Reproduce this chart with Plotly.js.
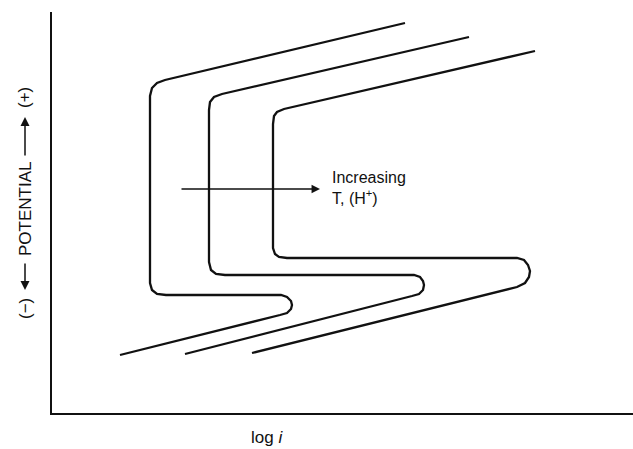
<!DOCTYPE html>
<html>
<head>
<meta charset="utf-8">
<script src="https://cdn.plot.ly/plotly-3.0.1.min.js"></script>
<style>html,body{margin:0;padding:0;background:#fff;}#chart{width:633px;height:449px;}</style>
</head>
<body>
<div id="chart"></div>
<script>
// Schematic polarization curves (arbitrary units): x = log i, y = potential
const curve1X = [353,113,105,100,98,98,100,105,114,229,235,239,240,239,235,228,68];
const curve1Y = [390,333,330,325,317,130,123,119,118,118,116,112,108,104,100,98,58];
const curve2X = [417,170,162,158,157,157,159,164,173,362,368,371,372,371,367,360,133];
const curve2Y = [376,319,316,311,303,151,143,139,138,138,136,132,128,123,119,117,59];
const curve3X = [483,232,225,222,221,221,223,227,235,465,472,476,478,477,473,465,200];
const curve3Y = [362,304,301,297,289,165,159,156,155,155,153,148,142,136,130,126,60];

const arrowFrom = [128,224];
const arrowTo = [268,224];
const labelPos = [278,225];

const xTitle = 'log <i>i</i>';
const yLabelPlus = '(+)';
const yLabelMid = 'POTENTIAL';
const yLabelMinus = '(−)';
const noteText = 'Increasing<br>T, (H<sup>+</sup>)';

const lineStyle = {color:'#111', width:2.3, shape:'linear'};
const traces = [
  {x:curve1X, y:curve1Y},
  {x:curve2X, y:curve2Y},
  {x:curve3X, y:curve3Y}
].map(t => Object.assign(t, {type:'scatter', mode:'lines', line:lineStyle, hoverinfo:'skip', showlegend:false}));

const font = {family:'Liberation Sans, Arial, sans-serif', color:'#111'};
// paper coordinates for the rotated y label
const py = v => (413 - v) / 401;
const lx = (25 - 52) / 581;
const lbl = (text, yPix) => ({xref:'paper', yref:'paper', x:lx, y:py(yPix), text:text, textangle:-90,
  showarrow:false, xanchor:'center', yanchor:'middle', font:Object.assign({size:17}, font)});
const layout = {
  width:633, height:449,
  margin:{l:52, r:0, t:12, b:36},
  paper_bgcolor:'#fff', plot_bgcolor:'#fff',
  showlegend:false,
  xaxis:{range:[0,581], showgrid:false, zeroline:false, showticklabels:false, ticks:'',
         showline:true, linecolor:'#111', linewidth:2, fixedrange:true},
  yaxis:{range:[0,401], showgrid:false, zeroline:false, showticklabels:false, ticks:'',
         showline:true, linecolor:'#111', linewidth:2, fixedrange:true},
  annotations:[
    {xref:'x', yref:'y', axref:'x', ayref:'y', x:arrowTo[0], y:arrowTo[1], ax:arrowFrom[0], ay:arrowFrom[1],
     text:'', showarrow:true, arrowhead:2, arrowsize:1.3, arrowwidth:1.3, arrowcolor:'#111'},
    {xref:'x', yref:'y', x:labelPos[0], y:labelPos[1], text:noteText, showarrow:false,
     xanchor:'left', yanchor:'middle', align:'left', font:Object.assign({size:16}, font)},
    {xref:'paper', yref:'paper', x:(267-52)/581, y:-(449-413)/401, text:xTitle, showarrow:false,
     xanchor:'center', yanchor:'bottom', font:Object.assign({size:17}, font)},
    lbl(yLabelPlus, 98),
    lbl(yLabelMid, 209),
    lbl(yLabelMinus, 309),
    {xref:'paper', yref:'paper', x:lx, y:py(117), axref:'pixel', ayref:'pixel', ax:0, ay:40,
     text:'', showarrow:true, arrowhead:2, arrowsize:1.2, arrowwidth:1.5, arrowcolor:'#111'},
    {xref:'paper', yref:'paper', x:lx, y:py(290), axref:'pixel', ayref:'pixel', ax:0, ay:-28,
     text:'', showarrow:true, arrowhead:2, arrowsize:1.2, arrowwidth:1.5, arrowcolor:'#111'}
  ]
};
Plotly.newPlot('chart', traces, layout, {staticPlot:true, displayModeBar:false});
</script>
</body>
</html>
